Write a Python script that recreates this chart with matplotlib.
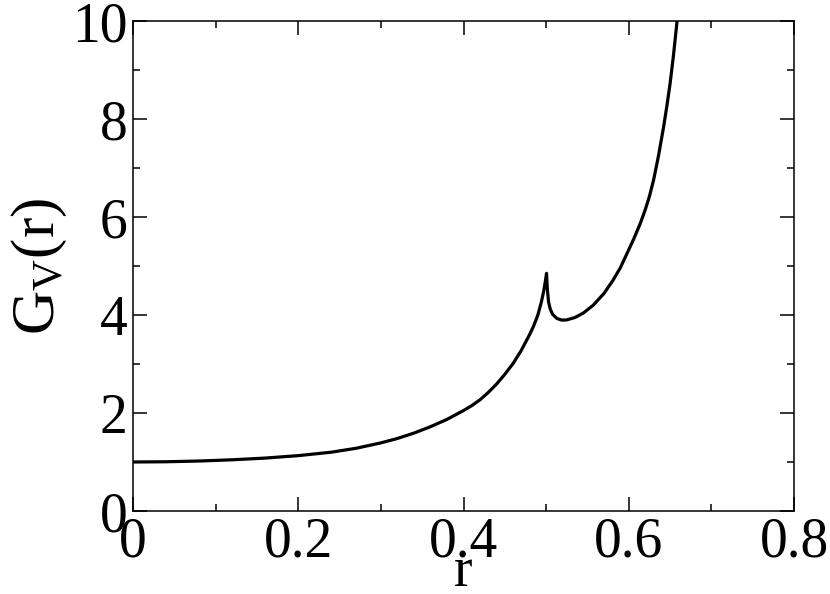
import matplotlib
matplotlib.use("Agg")
import matplotlib.pyplot as plt
from matplotlib.ticker import MultipleLocator

r = [0.00, 0.04, 0.08, 0.12, 0.16, 0.20, 0.24, 0.27, 0.30, 0.32, 0.34, 0.36,
     0.38, 0.40, 0.41, 0.42, 0.43, 0.44, 0.45, 0.46, 0.47, 0.48, 0.485,
     0.49, 0.494, 0.497, 0.499, 0.5005,
     0.5015, 0.503, 0.505, 0.508, 0.513, 0.519, 0.525, 0.535, 0.545, 0.557,
     0.570, 0.581, 0.590, 0.598, 0.606, 0.614, 0.620, 0.625, 0.630, 0.636,
     0.642, 0.646, 0.650, 0.654, 0.658, 0.662]
G = [1.000, 1.005, 1.020, 1.045, 1.080, 1.130, 1.200, 1.28, 1.39, 1.48, 1.59, 1.72,
     1.87, 2.05, 2.15, 2.27, 2.42, 2.59, 2.79, 3.01, 3.28, 3.60, 3.78,
     4.00, 4.25, 4.48, 4.68, 4.85,
     4.52, 4.26, 4.12, 4.01, 3.93, 3.895, 3.90, 3.95, 4.04, 4.20,
     4.44, 4.71, 4.97, 5.26, 5.55, 5.87, 6.15, 6.42, 6.75, 7.25,
     7.82, 8.25, 8.72, 9.28, 9.92, 10.6]

x_ticks = [0, 0.2, 0.4, 0.6, 0.8]
x_ticklabels = ["0", "0.2", "0.4", "0.6", "0.8"]
y_ticks = [0, 2, 4, 6, 8, 10]
y_ticklabels = ["0", "2", "4", "6", "8", "10"]

plt.rcParams['font.family'] = ['Liberation Serif', 'DejaVu Serif']
plt.rcParams['mathtext.fontset'] = 'custom'
plt.rcParams['mathtext.rm'] = 'Liberation Serif'
plt.rcParams['mathtext.it'] = 'Liberation Serif:italic'

fig = plt.figure(figsize=(8.30, 5.94), dpi=100)
ax = fig.add_axes([133/830, 1-511/594, (794-133)/830, (511-21)/594])

ax.plot(r, G, color='black', lw=2.3, solid_joinstyle='round')
ax.set_xlim(0, 0.8)
ax.set_ylim(0, 10)
ax.set_xticks(x_ticks)
ax.set_xticklabels(x_ticklabels)
ax.set_yticks(y_ticks)
ax.set_yticklabels(y_ticklabels)
ax.xaxis.set_minor_locator(MultipleLocator(0.1))
ax.yaxis.set_minor_locator(MultipleLocator(1))
ax.tick_params(which='both', direction='in', top=True, right=True,
               width=1.1, labelsize=40, pad=4)
ax.tick_params(which='major', length=10)
ax.tick_params(which='minor', length=5)
for s in ax.spines.values():
    s.set_linewidth(1.1)

ax.set_xlabel('r', fontsize=40, labelpad=-16)
ax.set_ylabel(r'G$_{\rm V}$(r)', fontsize=44, labelpad=2)

fig.savefig('out.png', dpi=100)
